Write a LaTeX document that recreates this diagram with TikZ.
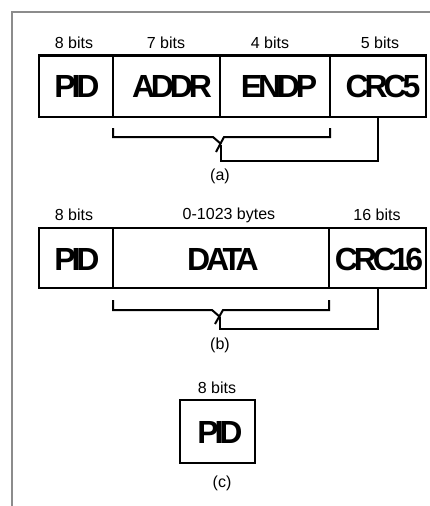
\documentclass[tikz,border=0pt]{standalone}
\usepackage{fontspec}
\setmainfont{Liberation Sans}
\newfontfamily\fieldfont[LetterSpace=-13]{Liberation Sans}
\begin{document}
\begin{tikzpicture}[x=1pt,y=-1pt,
  field/.style={draw=black, line width=2.6pt, anchor=north west, inner sep=0pt, outer sep=0pt},
  ftext/.style={font=\fieldfont\bfseries\fontsize{32}{32}\selectfont, inner sep=0pt},
  bits/.style={font=\fontsize{16}{16}\selectfont, inner sep=0pt},
  captext/.style={font=\fontsize{16}{16}\selectfont, inner sep=0pt},
  link/.style={draw=black, line width=2pt, line cap=butt, line join=miter},
  framel/.style={draw=black!45, line width=1.3pt}]
\useasboundingbox (0,0) rectangle (430,506);
\draw[framel] (430,12) -- (12,12) -- (12,506);

% ---- (a) ----
\node[field, minimum width=74pt, minimum height=61.5pt] (pida) at (39,55.5) {};
\node[field, minimum width=107pt, minimum height=61.5pt] (addr) at (113,55.5) {};
\node[field, minimum width=110pt, minimum height=61.5pt] (endp) at (220,55.5) {};
\node[field, minimum width=96pt, minimum height=61.5pt] (crc5) at (330,55.5) {};
\node[ftext] (tpida) at (77,86) {PID};
\node[ftext] (taddr) at (172,86) {ADDR};
\node[ftext] (tendp) at (279,86) {ENDP};
\node[ftext] (tcrc5) at (383,86) {CRC5};
\node[bits] (la1) at (74,43) {8 bits};
\node[bits] (la2) at (166,43) {7 bits};
\node[bits] (la3) at (270,43) {4 bits};
\node[bits] (la4) at (380,43) {5 bits};
\coordinate (ba1) at (113,128);
\coordinate (ba2) at (330,128);
\draw[link] (ba1) -- (113,137) -- (213,137) -- (221,144);
\draw[link] (216,152) -- (224,137) -- (330,137) -- (ba2);
\draw[link] (221,145) -- (221,161) -- (378,161) -- (crc5.south);
\node[captext] (capa) at (220,176) {(a)};

% ---- (b) ----
\node[field, minimum width=74pt, minimum height=60pt] (pidb) at (39,228) {};
\node[field, minimum width=216pt, minimum height=60pt] (data) at (113,228) {};
\node[field, minimum width=97pt, minimum height=60pt] (crc16) at (329,228) {};
\node[ftext] (tpidb) at (77,259) {PID};
\node[ftext] (tdata) at (223,259) {DATA};
\node[ftext] (tcrc16) at (379,259) {CRC16};
\node[bits] (lb1) at (74,215) {8 bits};
\node[bits] (lb2) at (229,215) {0-1023 bytes};
\node[bits] (lb3) at (377,215) {16 bits};
\coordinate (bb1) at (113,300);
\coordinate (bb2) at (329,300);
\draw[link] (bb1) -- (113,310) -- (212,310) -- (220,317);
\draw[link] (215,324) -- (223,310) -- (329,310) -- (bb2);
\draw[link] (219.5,317) -- (219.5,329) -- (377.5,329) -- (crc16.south);
\node[captext] (capb) at (220,345) {(b)};

% ---- (c) ----
\node[field, minimum width=75pt, minimum height=63pt] (pidc) at (180,400) {};
\node[ftext] (tpidc) at (220,432) {PID};
\node[bits] (lc1) at (217,388) {8 bits};
\node[captext] (capc) at (222,483) {(c)};
\end{tikzpicture}
\end{document}
